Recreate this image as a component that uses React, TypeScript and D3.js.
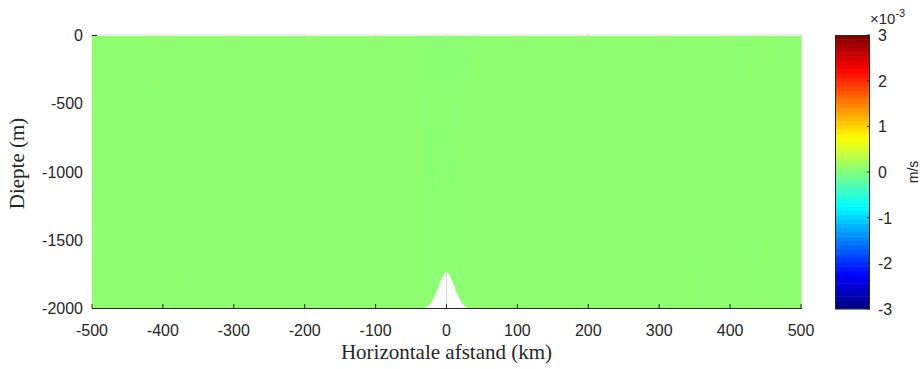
import * as d3 from "d3";

// x ticks (km) and depth ticks (m)
const xTicks = [-500, -400, -300, -200, -100, 0, 100, 200, 300, 400, 500];
const yTicks = [0, -500, -1000, -1500, -2000];
const cbTicks = [-3, -2, -1, 0, 1, 2, 3];

// background velocity of the field (x10^-3 m/s)
const fieldValue = 0.09;

// faint vertical streaks: x (km), top depth, bottom depth (m)
const streakX = [-425, -41, -36, -30, -24, -18, -12, -6, 0, 6, 12, 18, 24, 30, 410, 417, 432, 470, -486, -415, -362, -20, -12, -4, 4, 12, 20, 359, 418, 435, 484, 493];
const streakTop = [0, 0, 0, 0, 0, 0, 0, 0, 0, 0, 0, 0, 0, 0, 0, 0, 0, 0, -1740, -1740, -1790, -1000, -950, -1050, -900, -1000, -1100, -1700, -1550, -1550, -1860, -1800];
const streakBottom = [-380, -350, -650, -800, -1000, -1100, -750, -1000, -900, -1020, -1050, -700, -400, -300, -330, -300, -200, -200, -2000, -2000, -2000, -2000, -2000, -2000, -2000, -2000, -2000, -2000, -2000, -2000, -2000, -2000];
const streakValue = 0.0;

// seamount profile: x (km), height above -2000 m
const ridgeX = [-32, -27, -22, -17, -12, -7, -3, 0, 3, 7, 12, 17, 22, 27, 32];
const ridgeH = [0, 10, 35, 80, 145, 210, 250, 262, 250, 210, 145, 80, 35, 10, 0];

const W = 920;
const H = 369;
const plot = { left: 92, right: 801, top: 35, bottom: 308 };
const cb = { left: 835, right: 870, top: 35, bottom: 309 };

const jet = (t: number) => {
  const c = (v: number) => Math.round(255 * Math.max(0, Math.min(1, v)));
  const r = c(1.5 - Math.abs(4 * t - 3));
  const g = c(1.5 - Math.abs(4 * t - 2));
  const b = c(1.5 - Math.abs(4 * t - 1));
  return `rgb(${r},${g},${b})`;
};

export default function App() {
  const x = d3.scaleLinear().domain([-500, 500]).range([plot.left, plot.right]);
  const y = d3.scaleLinear().domain([0, -2000]).range([plot.top, plot.bottom]);
  const cbY = d3.scaleLinear().domain([-3, 3]).range([cb.bottom, cb.top]);
  const color = d3.scaleSequential((t: number) => jet(t)).domain([-3, 3]);

  const nLevels = 64;
  const levels = d3.range(nLevels);
  const levelH = (cb.bottom - cb.top) / nLevels;

  const ridgeArea = d3
    .area<number>()
    .x((_, i) => x(ridgeX[i]))
    .y0(() => y(-2000))
    .y1((_, i) => y(-2000 + ridgeH[i]))
    .curve(d3.curveMonotoneX);

  const axisColor = "#262626";
  const font = "'Liberation Sans', Arial, Helvetica, sans-serif";
  const serif = "'Liberation Serif', 'DejaVu Serif', serif";

  return (
    <div style={{ position: "absolute", left: 0, top: 0 }}>
      <svg width={W} height={H} style={{ display: "block", background: "#fff" }}>
        {/* field */}
        <rect
          x={plot.left}
          y={plot.top + 1}
          width={plot.right - plot.left}
          height={plot.bottom - plot.top - 1}
          fill={color(fieldValue)}
        />
        {streakX.map((sx, i) => (
          <rect
            key={i}
            x={x(sx) - 1}
            y={y(streakTop[i]) + 1}
            width={2}
            height={y(streakBottom[i]) - y(streakTop[i])}
            fill={color(streakValue)}
            opacity={0.6}
          />
        ))}
        <path d={ridgeArea(ridgeX) || ""} fill="#fff" />

        {/* box */}
        <line x1={plot.left} x2={plot.right} y1={plot.top} y2={plot.top} stroke="#dcdcdc" />
        <line x1={plot.right + 0.5} x2={plot.right + 0.5} y1={plot.top} y2={plot.bottom} stroke="#dcdcdc" />
        {xTicks.map((t) => (
          <line key={"tt" + t} x1={x(t)} x2={x(t)} y1={plot.top} y2={plot.top + 3} stroke="#cfcfcf" />
        ))}
        <line x1={plot.left} x2={plot.left + 5} y1={plot.top + 0.5} y2={plot.top + 0.5} stroke={axisColor} />

        {/* bottom axis */}
        <line x1={plot.left} x2={plot.right + 1} y1={plot.bottom + 0.5} y2={plot.bottom + 0.5} stroke={axisColor} />
        {xTicks.map((t) => (
          <line key={"bt" + t} x1={x(t)} x2={x(t)} y1={plot.bottom} y2={plot.bottom - 4} stroke={axisColor} />
        ))}
        <line x1={x(0)} x2={x(0)} y1={y(-1740)} y2={plot.bottom - 4} stroke="#d6d6d6" />
        {xTicks.map((t) => (
          <text
            key={"xl" + t}
            x={x(t)}
            y={336}
            textAnchor="middle"
            fontFamily={font}
            fontSize={16}
            fill={axisColor}
          >
            {t}
          </text>
        ))}
        {yTicks.map((t) => (
          <text
            key={"yl" + t}
            x={83}
            y={y(t) + 6}
            textAnchor="end"
            fontFamily={font}
            fontSize={16}
            fill={axisColor}
          >
            {t}
          </text>
        ))}
        <text
          x={(plot.left + plot.right) / 2}
          y={359}
          textAnchor="middle"
          fontFamily={serif}
          fontSize={21}
          fill={axisColor}
        >
          Horizontale afstand (km)
        </text>
        <text
          transform={`translate(24,${(plot.top + plot.bottom) / 2 - 8}) rotate(-90)`}
          textAnchor="middle"
          fontFamily={serif}
          fontSize={21}
          fill={axisColor}
        >
          Diepte (m)
        </text>

        {/* colorbar */}
        {levels.map((i) => (
          <rect
            key={"cb" + i}
            x={cb.left}
            y={cb.bottom - (i + 1) * levelH}
            width={cb.right - cb.left}
            height={levelH + 0.5}
            fill={jet((i + 0.5) / nLevels)}
          />
        ))}
        <rect
          x={cb.left + 0.5}
          y={cb.top + 0.5}
          width={cb.right - cb.left - 1}
          height={cb.bottom - cb.top - 1}
          fill="none"
          stroke={axisColor}
        />
        {cbTicks.map((t) => (
          <g key={"cbt" + t}>
            <line x1={cb.right - 3} x2={cb.right} y1={cbY(t)} y2={cbY(t)} stroke={axisColor} />
            <text x={878} y={cbY(t) + 6} fontFamily={font} fontSize={16} fill={axisColor}>
              {t}
            </text>
          </g>
        ))}
        <text x={870} y={24} fontFamily={font} fontSize={15} fill={axisColor}>
          ×10
          <tspan dy={-7} fontSize={11}>
            -3
          </tspan>
        </text>
        <text
          transform={`translate(918,${cbY(0)}) rotate(-90)`}
          textAnchor="middle"
          fontFamily={font}
          fontSize={14}
          fill={axisColor}
        >
          m/s
        </text>
      </svg>
    </div>
  );
}
